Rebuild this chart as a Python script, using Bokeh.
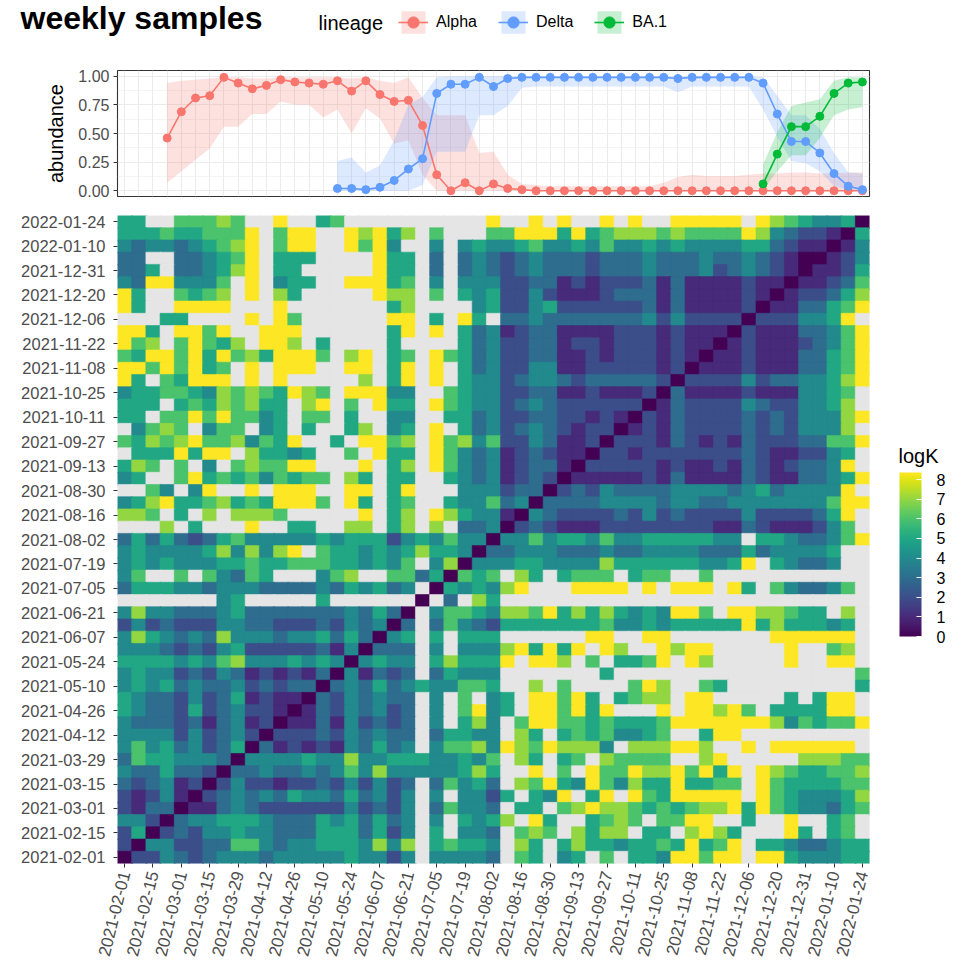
import math
import numpy as np
from bokeh.plotting import figure
from bokeh.layouts import column, row
from bokeh.models import (Range1d, FixedTicker, LinearColorMapper, ColorBar, Legend,
                          LegendItem, Label, ColumnDataSource, NumeralTickFormatter)
from bokeh.palettes import Viridis256
from bokeh.transform import transform
from bokeh.embed import file_html
from bokeh.resources import INLINE

# ---------------- data ----------------
weeks = ["2021-02-01", "2021-02-08", "2021-02-15", "2021-02-22", "2021-03-01", "2021-03-08",
         "2021-03-15", "2021-03-22", "2021-03-29", "2021-04-05", "2021-04-12", "2021-04-19",
         "2021-04-26", "2021-05-03", "2021-05-10", "2021-05-17", "2021-05-24", "2021-05-31",
         "2021-06-07", "2021-06-14", "2021-06-21", "2021-06-28", "2021-07-05", "2021-07-12",
         "2021-07-19", "2021-07-26", "2021-08-02", "2021-08-09", "2021-08-16", "2021-08-23",
         "2021-08-30", "2021-09-06", "2021-09-13", "2021-09-20", "2021-09-27", "2021-10-04",
         "2021-10-11", "2021-10-18", "2021-10-25", "2021-11-01", "2021-11-08", "2021-11-15",
         "2021-11-22", "2021-11-29", "2021-12-06", "2021-12-13", "2021-12-20", "2021-12-27",
         "2021-12-31", "2022-01-03", "2022-01-10", "2022-01-17", "2022-01-24"]

N = None
alpha = [N, N, N, 0.46, 0.69, 0.81, 0.83, 0.99, 0.94, 0.89, 0.92, 0.97, 0.95, 0.94, 0.93, 0.96,
         0.87, 0.96, 0.84, 0.78, 0.79, 0.57, 0.14, 0.00, 0.07, 0.00, 0.06, 0.02, 0.01, 0.00,
         0.00, 0.00, 0.00, 0.00, 0.00, 0.00, 0.00, 0.00, 0.00, 0.00, 0.00, 0.00, 0.00, 0.00,
         0.00, 0.00, 0.00, 0.00, 0.00, 0.00, 0.00, 0.00, 0.00]
alpha_lo = [N, N, N, 0.07, 0.17, 0.27, 0.37, 0.56, 0.56, 0.67, 0.67, 0.78, 0.75, 0.75, 0.64, 0.71,
            0.50, 0.72, 0.63, 0.41, 0.44, 0.14, 0.00, 0.00, 0.00, 0.00, 0.00, 0.00, 0.00, 0.00,
            0.00, 0.00, 0.00, 0.00, 0.00, 0.00, 0.00, 0.00, 0.00, 0.00, 0.00, 0.00, 0.00, 0.00,
            0.00, 0.00, 0.00, 0.00, 0.00, 0.00, 0.00, 0.00, 0.00]
alpha_hi = [N, N, N, 0.94, 0.96, 0.97, 0.98, 0.99, 0.99, 0.98, 0.98, 0.99, 0.99, 0.99, 0.99, 0.99,
            0.98, 0.99, 0.96, 0.94, 0.99, 0.81, 0.66, 0.66, 0.66, 0.33, 0.34, 0.14, 0.06, 0.05,
            0.04, 0.04, 0.04, 0.04, 0.04, 0.04, 0.04, 0.04, 0.07, 0.12, 0.14, 0.13, 0.13, 0.13,
            0.14, 0.15, 0.15, 0.16, 0.16, 0.15, 0.15, 0.16, 0.16]
delta = [N, N, N, N, N, N, N, N, N, N, N, N, N, N, N, 0.02, 0.02, 0.01, 0.03, 0.09, 0.19, 0.28,
         0.85, 0.93, 0.93, 0.99, 0.91, 0.98, 0.99, 0.99, 0.99, 0.99, 0.99, 0.99, 0.99, 0.99, 0.99,
         0.99, 0.99, 0.98, 0.99, 0.99, 0.99, 0.99, 0.99, 0.94, 0.67, 0.43, 0.43, 0.33, 0.15, 0.04,
         0.01]
delta_lo = [N, N, N, N, N, N, N, N, N, N, N, N, N, N, N, 0.00, 0.00, 0.00, 0.00, 0.00, 0.00, 0.05,
            0.34, 0.34, 0.34, 0.66, 0.66, 0.74, 0.90, 0.91, 0.91, 0.91, 0.91, 0.91, 0.91, 0.91,
            0.91, 0.91, 0.91, 0.86, 0.91, 0.91, 0.91, 0.91, 0.91, 0.71, 0.47, 0.26, 0.24, 0.17,
            0.04, 0.01, 0.00]
delta_hi = [N, N, N, N, N, N, N, N, N, N, N, N, N, N, N, 0.26, 0.29, 0.16, 0.22, 0.44, 0.75, 0.82,
            0.99, 1.00, 1.00, 1.00, 1.00, 1.00, 1.00, 1.00, 1.00, 1.00, 1.00, 1.00, 1.00, 1.00,
            1.00, 1.00, 1.00, 1.00, 1.00, 1.00, 1.00, 1.00, 1.00, 0.99, 0.83, 0.66, 0.66, 0.54,
            0.33, 0.16, 0.15]
ba1 = [N] * 45 + [0.06, 0.32, 0.56, 0.56, 0.65, 0.85, 0.94, 0.95]
ba1_lo = [N] * 45 + [0.01, 0.17, 0.31, 0.31, 0.46, 0.66, 0.71, 0.73]
ba1_hi = [N] * 45 + [0.23, 0.51, 0.74, 0.77, 0.80, 0.96, 0.99, 0.99]

# logK matrix, one string per y-week (top row = 2022-01-24), one char per x-week
# digits = logK level, '8' = top of scale, '.' = missing
logK_rows = [
    "55..66676." ".8..56....." ".....8..8." "8..8.8..88" "888.87654450",   # 2022-01-24
    "5556556668" ".688..87857" ".6...66888" "5856777676" "666874322105",   # 2022-01-17
    "4344345678" ".688..8684." ".4.4544564" "4546445454" "444553211014",   # 2022-01-10
    "33..334568" ".555....855" ".3.3432343" "3323334333" "433432100124",   # 2022-01-03
    "335.334578" ".55.....855" ".3.3432343" "3323334333" "423432101125",   # 2021-12-31
    "43884446.8" ".455..88856" ".4.4442233" "1212223131" "111211011236",   # 2021-12-27
    "85..6567.8" ".75.....877" ".6.5452242" "1112333131" "111210122357",   # 2021-12-20
    "85..8888.." ".8.......57" "....452245" "2222223131" "111201133568",   # 2021-12-13
    "...55....8" ".86......88" ".5.85.3343" "3333334242" "22202224458.",   # 2021-12-06
    "885.8868.." "888......58" ".8.5341233" "1111222121" "110211133468",   # 2021-11-29
    "867.68657." "887.5....5." "...5342233" "1221222121" "101211123468",   # 2021-11-22
    "6588685867" "58886.78.56" ".865342233" "1121222121" "011211133568",   # 2021-11-15
    "88686856.8" ".888..88.58" ".8.5342244" "1122222120" "111211133568",   # 2021-11-08
    "85.65888.8" ".8.....7.58" ".8.5442344" "3233333202" "222423344578",   # 2021-11-01
    "4556654767" "65876.88844" "..65442233" "1121112031" "11121114456.",   # 2021-10-25
    "555.565767" "55.78.6.855" ".865442343" "2222220132" "22243224457.",   # 2021-10-18
    "55.6686866" "45.66.5..44" "..55342233" "2212102132" "222323244478",   # 2021-10-11
    ".4676.466." "45.5..57.45" ".8.5342343" "2122012132" "22232324447.",   # 2021-10-04
    "6576786674" "658..5.8867" ".867462243" "1120222132" "121322233668",   # 2021-09-27
    ".5558588.7" "5545..6.855" ".864341232" "1102212222" "22232112245.",   # 2021-09-20
    "576.6.4.67" "6688...8.57" ".864341233" "1022222121" "12132123348.",   # 2021-09-13
    "45..685656" "46566.75.55" "..54341232" "0111112131" "111321133458",   # 2021-09-06
    "..64.48..8" ".888..88.58" "...4442330" "2324333344" "44345344448.",   # 2021-08-30
    "4578556756" "58886.85.56" "..54463403" "3334444344" "334444444688",   # 2021-08-23
    "776.5.7.77" "76.....8.57" ".875441043" "2222324232" "22242222358.",   # 2021-08-16
    "...7.5...8" "..55..77.57" ".7.3340232" "1112222222" "21132111246.",   # 2021-08-09
    "3535323564" "44445455524" "5464404464" "5546445555" "544.55433468",   # 2021-08-02
    "4544445747" "478.6554545" "7554033444" "3334334444" "3335344445..",   # 2021-07-26
    "4545444556" "55666554546" ".470444554" "4447555555" "4458.54334..",   # 2021-07-19
    "46..6.6436" "5...467..66" "350656.75." "5666.566.." "6...........",   # 2021-07-12
    "3555443444" "33334354534" ".0545478.." ".8888.8.88" "8.85.643346.",   # 2021-07-05
    ".......45." "....5......" "0.3.75...." ".........." "............",   # 2021-06-28
    "4744333453" "33333343530" ".466547768" "5757545488" "6.8877655.7.",   # 2021-06-21
    "2423222443" "32223243403" ".364325555" "5556445455" "55585755545.",   # 2021-06-14
    "4754343744" "43445353045" ".5.555...." "..88..88.." ".....888888.",   # 2021-06-07
    "4443232452" "22223140333" ".4.4447858" "58.87..878" "8.....8..67.",   # 2021-05-31
    "5555454674" "44545404544" ".575558.88" "7.6.5568.8" "7.....8..88.",   # 2021-05-24
    "4544232431" "21213041323" ".35444...." "...5......" "...........6",   # 2021-05-17
    "4545343342" "32330343534" "544665..7." "6....687.." "65.........5",   # 2021-05-10
    "5433242351" "21103243433" ".4.6.45.88" "685.5677.8" "8.....5.588.",   # 2021-05-03
    "5433252342" "21013243423" ".4.6845.88" "6858...8.8" "8786.555588.",   # 2021-04-26
    "4333231341" "20113142323" ".4.574.688" "6656555688" "888887465668",   # 2021-04-19
    "4444242342" "02223243433" ".35544.75." "56564456.." "588.........",   # 2021-04-12
    "4645342350" "31212143534" ".466748768" "7774.77788" "7..8.888888.",   # 2021-04-05
    "3655444304" "44454474455" "544546.75." "56.76666.." "78.....77766",   # 2021-03-29
    "4335332033" "43343464744" "444575..8." "6.86687786" "858.87655667",   # 2021-03-22
    "3234120242" "21223242423" ".36453.768" "5486475585" "566.86555566",   # 2021-03-15
    "2124102343" "43544353424" ".4.4425.54" "8.58.86588" "888.86544457",   # 2021-03-08
    "2133011343" "22222242324" ".36443.55." "6787765656" "778586544356",   # 2021-03-01
    "4420344555" "43335453534" ".4.5457.85" "..5676.668" "8..5..8..56.",   # 2021-02-22
    "2502324454" "43335553524" ".5.443.676" ".7577.55.7" "875...85.56.",   # 2021-02-15
    "2044223366" "43445554747" ".56554.75." "5755455658" "568.55433455",   # 2021-02-08
    "0224323444" "34444454424" ".44443.65." "45.6.55488" "688.88544455",   # 2021-02-01
]
logK_max = 8.36
colorbar_ticks = [0, 1, 2, 3, 4, 5, 6, 7, 8]

lineages = ["Alpha", "Delta", "BA.1"]
colors = ["#F8766D", "#619CFF", "#00BA38"]

# ---------------- layout constants ----------------
FONT = "Liberation Sans"
W = 971
H0 = 50            # header (title + legend)
H1 = 205 - H0      # abundance panel
H2 = 974 - 205     # heatmap
FL, FR = 117, 869  # frame left/right in px
W2 = FR + 2
W3 = W - W2


def valid(vals, lo, hi):
    idx = [i for i, v in enumerate(vals) if v is not None]
    return ColumnDataSource(dict(x=idx, y=[vals[i] for i in idx],
                                 lo=[lo[i] for i in idx], hi=[hi[i] for i in idx]))


def bare(fig):
    fig.background_fill_color = "white"
    fig.border_fill_color = "white"
    fig.outline_line_color = None
    fig.grid.visible = False


def free_frame(fig):
    if "frame_align" in fig.properties():
        fig.frame_align = False


series = [(alpha, alpha_lo, alpha_hi), (delta, delta_lo, delta_hi), (ba1, ba1_lo, ba1_hi)]
srcs = [valid(*s) for s in series]

# ---------------- header: title + legend ----------------
p0 = figure(width=W, height=H0, x_range=Range1d(-0.5, 52.5), y_range=Range1d(-0.05, 1.05),
            x_axis_location=None, y_axis_location=None, output_backend="svg",
            toolbar_location=None, min_border=0, min_border_left=0, min_border_right=0,
            min_border_top=0, min_border_bottom=0)
bare(p0)
free_frame(p0)
p0.add_layout(Label(x=20, y=H0 - 17, x_units="screen", y_units="screen", text="weekly samples",
                    text_font=FONT, text_font_size="32px", text_font_style="bold",
                    text_baseline="middle", text_color="black"))
p0.add_layout(Label(x=318, y=H0 - 22, x_units="screen", y_units="screen", text="lineage",
                    text_font=FONT, text_font_size="20px", text_baseline="middle",
                    text_color="black"))
# the legend keys reuse the series data; these renderers are hidden, only their keys show
items = []
for lab, src, c in zip(lineages, srcs, colors):
    rb = p0.varea(x="x", y1="lo", y2="hi", source=src, fill_color=c, fill_alpha=0.22, visible=False)
    rl = p0.line(x="x", y="y", source=src, line_color=c, line_width=1.6, visible=False)
    rs = p0.scatter(x="x", y="y", source=src, size=8, fill_color=c, line_color=c, visible=False)
    items.append(LegendItem(label=lab, renderers=[rb, rl, rs]))
legend = Legend(items=items, orientation="horizontal", location=(398, H0 - 36),
                glyph_width=30, glyph_height=28, label_standoff=8, spacing=21,
                padding=0, margin=0, border_line_color=None, background_fill_alpha=0,
                inactive_fill_alpha=0,
                label_text_font=FONT, label_text_font_size="16px", label_text_color="black")
p0.add_layout(legend)

# ---------------- top panel ----------------
p1 = figure(width=W, height=H1, x_range=Range1d(-0.5, 52.5), y_range=Range1d(-0.05, 1.05),
            x_axis_location=None, output_backend="svg", toolbar_location=None,
            min_border_left=FL, min_border_right=W - FR, min_border_top=70 - H0,
            min_border_bottom=9)
p1.background_fill_color = "white"
p1.border_fill_color = "white"
p1.outline_line_color = "#333333"
p1.outline_line_width = 1.1

p1.xgrid.ticker = FixedTicker(ticks=list(range(53)))
p1.xgrid.grid_line_color = "#EBEBEB"
p1.xgrid.grid_line_width = 1.1
p1.ygrid.ticker = FixedTicker(ticks=[0, 0.25, 0.5, 0.75, 1.0], minor_ticks=[0.125, 0.375, 0.625, 0.875])
p1.ygrid.grid_line_color = "#EBEBEB"
p1.ygrid.grid_line_width = 1.1
p1.ygrid.minor_grid_line_color = "#EBEBEB"
p1.ygrid.minor_grid_line_width = 0.55

ya = p1.yaxis[0]
ya.ticker = FixedTicker(ticks=[0, 0.25, 0.5, 0.75, 1.0])
ya.formatter = NumeralTickFormatter(format="0.00")
ya.axis_label = "abundance"
ya.axis_label_text_font = FONT
ya.axis_label_text_font_size = "20px"
ya.axis_label_text_font_style = "normal"
ya.axis_label_text_color = "black"
ya.axis_label_standoff = 8
ya.major_label_text_font = FONT
ya.major_label_text_font_size = "16px"
ya.major_label_text_color = "#4D4D4D"
ya.major_label_standoff = 4
ya.axis_line_color = None
ya.major_tick_line_color = "#333333"
ya.major_tick_out = 4
ya.major_tick_in = 0
ya.minor_tick_line_color = None

for src, c in zip(srcs, colors):
    p1.varea(x="x", y1="lo", y2="hi", source=src, fill_color=c, fill_alpha=0.22)
for src, c in zip(srcs, colors):
    p1.line(x="x", y="y", source=src, line_color=c, line_width=1.6)
for src, c in zip(srcs, colors):
    p1.scatter(x="x", y="y", source=src, size=8, fill_color=c, line_color=c)

# ---------------- heatmap ----------------
xs, ys, vs = [], [], []
nrow = len(logK_rows)
for r, rw in enumerate(logK_rows):
    assert len(rw) == 53, (r, len(rw))
    yi = nrow - 1 - r
    for xi, ch in enumerate(rw):
        xs.append(xi)
        ys.append(yi)
        if ch == ".":
            vs.append(float("nan"))
        elif ch == "8":
            vs.append(logK_max)
        else:
            vs.append(float(ch))
hsrc = ColumnDataSource(dict(x=xs, y=ys, v=np.array(vs)))

mapper = LinearColorMapper(palette=Viridis256, low=0, high=logK_max, nan_color="#E5E5E5")

p2 = figure(width=W2, height=H2, x_range=Range1d(-0.5, 52.5), y_range=Range1d(-0.5, 52.5),
            output_backend="svg", toolbar_location=None,
            min_border_left=FL, min_border_right=W2 - FR, min_border_top=10, min_border_bottom=111)
bare(p2)
p2.rect(x="x", y="y", width=1, height=1, source=hsrc, fill_color=transform("v", mapper),
        line_color=transform("v", mapper), line_width=0.6, dilate=True)

lab_idx = list(range(0, 53, 2))
for ax, size, so in ((p2.yaxis[0], "16.5px", 8), (p2.xaxis[0], "17px", 4)):
    ax.ticker = FixedTicker(ticks=lab_idx)
    ax.major_label_overrides = {i: weeks[i] for i in lab_idx}
    ax.major_label_text_font = FONT
    ax.major_label_text_font_size = size
    ax.major_label_text_color = "#4D4D4D"
    ax.axis_line_color = None
    ax.major_tick_line_color = "#333333"
    ax.major_tick_out = 4
    ax.major_tick_in = 0
    ax.minor_tick_line_color = None
    ax.major_label_standoff = so
p2.xaxis[0].major_label_orientation = math.radians(76)

# ---------------- colour bar ----------------
p3 = figure(width=W3, height=H2, x_range=Range1d(0, 1), y_range=Range1d(0, 1),
            x_axis_location=None, y_axis_location=None, output_backend="svg",
            toolbar_location=None, min_border=0, min_border_left=0, min_border_right=0,
            min_border_top=0, min_border_bottom=0)
bare(p3)
free_frame(p3)
cb = ColorBar(color_mapper=mapper, ticker=FixedTicker(ticks=colorbar_ticks), width=22, height=164,
              major_label_text_font=FONT, major_label_text_font_size="16px",
              major_label_text_color="black", label_standoff=15,
              major_tick_line_color="white", major_tick_in=5, major_tick_out=0,
              bar_line_color=None, border_line_color=None, background_fill_alpha=0,
              margin=0, padding=0, location=(899 - W2, H2 - (636 - 205)))
p3.add_layout(cb)
p3.add_layout(Label(x=898 - W2, y=H2 - (455 - 205), x_units="screen", y_units="screen",
                    text="logK", text_font=FONT, text_font_size="20px", text_baseline="middle",
                    text_color="black"))

layout = column(p0, p1, row(p2, p3, spacing=0), spacing=0)
open("out.html", "w").write(file_html(layout, INLINE))
